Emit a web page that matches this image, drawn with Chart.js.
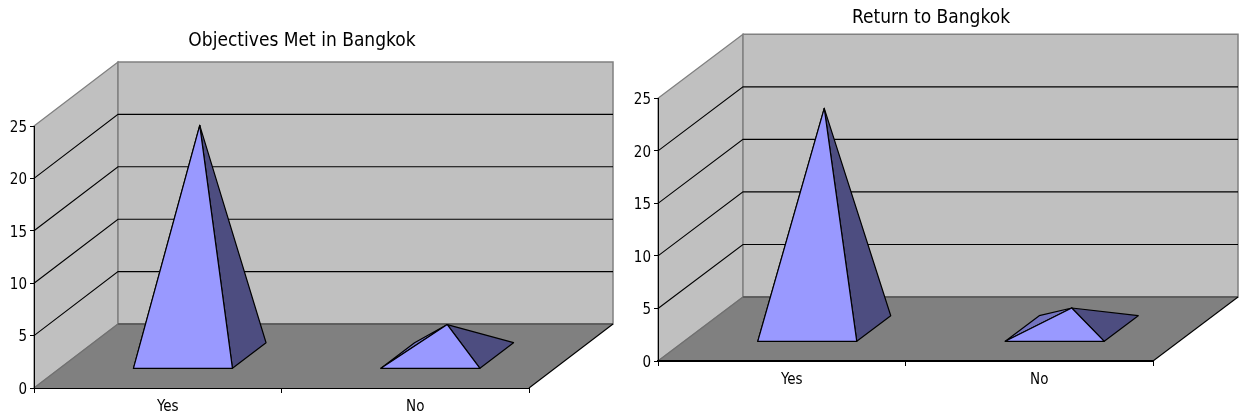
<!DOCTYPE html>
<html>
<head>
<meta charset="utf-8">
<title>Bangkok survey</title>
<script src="https://cdn.jsdelivr.net/npm/chart.js@4/dist/chart.umd.min.js"></script>
<style>
  html, body { margin: 0; padding: 0; background: #fff; overflow: hidden; }
  canvas { position: absolute; top: 0; }
  #objectives { left: 0; }
  #returnTrip { left: 621px; }
</style>
</head>
<body>
<canvas id="objectives" width="621" height="417"></canvas>
<canvas id="returnTrip" width="622" height="417"></canvas>
<script>
var categories = ["Yes", "No"];
var objectivesValues = [22, 3];
var returnValues = [21, 2];
var yTicks = [0, 5, 10, 15, 20, 25];

var FONT = "'DejaVu Sans Condensed', 'Noto Sans', sans-serif";

// fake 3d look: every point gets pushed back along (depthX, -depthY)
var pyramids3d = {
  id: "pyramids3d",
  afterLayout: function (chart) {
    var o = chart.options.plugins.pyramids3d;
    chart.titleBlock.left = o.titleCenter - 200;
    chart.titleBlock.right = o.titleCenter + 200;
  },
  beforeDraw: function (chart) {
    var o = chart.options.plugins.pyramids3d;
    var c = chart.ctx, a = chart.chartArea, y = chart.scales.y;
    var dx = o.depthX, dy = o.depthY;

    function poly(pts, fill, stroke, width) {
      c.beginPath();
      pts.forEach(function (p, i) { i ? c.lineTo(p[0], p[1]) : c.moveTo(p[0], p[1]); });
      c.closePath();
      if (fill) { c.fillStyle = fill; c.fill(); }
      if (stroke) { c.strokeStyle = stroke; c.lineWidth = width || 1; c.stroke(); }
    }

    c.save();
    // side wall, back wall, floor
    poly([[a.left, a.top], [a.left + dx, a.top - dy], [a.left + dx, a.bottom - dy], [a.left, a.bottom]], "#c0c0c0", "#808080", 1.3);
    poly([[a.left + dx, a.top - dy], [a.right + dx, a.top - dy], [a.right + dx, a.bottom - dy], [a.left + dx, a.bottom - dy]], "#c0c0c0", "#808080", o.wallLine);
    poly([[a.left, a.bottom], [a.left + dx, a.bottom - dy], [a.right + dx, a.bottom - dy], [a.right, a.bottom]], "#808080", null);

    // gridlines run along the side wall then across the back wall
    c.beginPath();
    yTicks.forEach(function (v) {
      if (v === 0 || v === 25) return;
      var py = y.getPixelForValue(v);
      c.moveTo(a.left, py);
      c.lineTo(a.left + dx, py - dy);
      c.lineTo(a.right + dx, py - dy);
    });
    c.strokeStyle = "#000";
    c.lineWidth = 1.1;
    c.stroke();

    // floor edges
    c.beginPath();
    c.moveTo(a.left + dx, a.bottom - dy);
    c.lineTo(a.right + dx, a.bottom - dy);
    c.strokeStyle = "#505050";
    c.lineWidth = 1.5;
    c.stroke();
    c.beginPath();
    c.moveTo(a.left, a.bottom);
    c.lineTo(a.left + dx, a.bottom - dy);
    c.strokeStyle = "#707070";
    c.lineWidth = 1.2;
    c.stroke();
    c.beginPath();
    c.moveTo(a.right, a.bottom);
    c.lineTo(a.right + dx, a.bottom - dy);
    c.strokeStyle = "#000";
    c.lineWidth = 1.1;
    c.stroke();
    c.restore();
  },
  afterDatasetsDraw: function (chart) {
    var o = chart.options.plugins.pyramids3d;
    var c = chart.ctx;
    var dx = o.depthX, dy = o.depthY;

    function face(pts, fill) {
      c.beginPath();
      pts.forEach(function (p, i) { i ? c.lineTo(p[0], p[1]) : c.moveTo(p[0], p[1]); });
      c.closePath();
      c.fillStyle = fill;
      c.fill();
      c.strokeStyle = "#000";
      c.lineWidth = 1.2;
      c.lineJoin = "round";
      c.stroke();
    }

    c.save();
    chart.getDatasetMeta(0).data.forEach(function (bar) {
      var half = bar.width / 2;
      var near = 0.3, far = 0.7;
      var fl = [bar.x - half + dx * near, bar.base - dy * near];
      var fr = [bar.x + half + dx * near, bar.base - dy * near];
      var bl = [bar.x - half + dx * far, bar.base - dy * far];
      var br = [bar.x + half + dx * far, bar.base - dy * far];
      var apex = [bar.x + dx * 0.5, bar.y - dy * 0.5];
      face([fl, bl, apex], "#7373bf");
      face([fr, br, apex], "#4d4d80");
      face([fl, fr, apex], "#9999ff");
    });
    c.restore();
  }
};

function pyramidChart(id, titleText, values, o) {
  return new Chart(id, {
    type: "bar",
    data: {
      labels: categories,
      datasets: [{
        data: values,
        backgroundColor: "transparent",
        borderWidth: 0,
        categoryPercentage: 1,
        barPercentage: 0.4
      }]
    },
    plugins: [pyramids3d],
    options: {
      responsive: false,
      animation: false,
      layout: { padding: { left: 0, right: o.right, top: 0, bottom: 0 } },
      scales: {
        x: {
          afterFit: function (s) { s.height = o.axisHeight; },
          border: { color: "#000", width: o.axisLine },
          grid: { drawOnChartArea: false, drawTicks: true, tickLength: 5, color: "#000" },
          ticks: { color: "#000", font: { family: FONT, size: 15 }, labelOffset: 10, padding: 5, maxRotation: 0 }
        },
        y: {
          min: 0,
          max: 25,
          afterFit: function (s) { s.width = o.left; },
          afterBuildTicks: function (s) { s.ticks = yTicks.map(function (v) { return { value: v }; }); },
          border: { color: "#000", width: 1 },
          grid: { drawOnChartArea: false, drawTicks: true, tickLength: 4, color: "#000" },
          ticks: { color: "#000", font: { family: FONT, size: 15 }, padding: 3, labelOffset: 2 }
        }
      },
      plugins: {
        legend: { display: false },
        tooltip: { enabled: false },
        title: {
          display: true,
          text: titleText,
          color: "#000",
          font: { family: FONT, size: 19, weight: "normal" },
          padding: { top: o.titleTop, bottom: o.titleBottom }
        },
        pyramids3d: o
      }
    }
  });
}

pyramidChart("objectives", "Objectives Met in Bangkok", objectivesValues, {
  left: 34, right: 92, axisHeight: 29, axisLine: 1,
  titleTop: 30, titleBottom: 73.2, titleCenter: 302,
  depthX: 84, depthY: 64, wallLine: 1.5
});

pyramidChart("returnTrip", "Return to Bangkok", returnValues, {
  left: 37, right: 90, axisHeight: 56, axisLine: 2,
  titleTop: 7, titleBottom: 68.5, titleCenter: 310,
  depthX: 85, depthY: 64, wallLine: 1.5
});
</script>
</body>
</html>
